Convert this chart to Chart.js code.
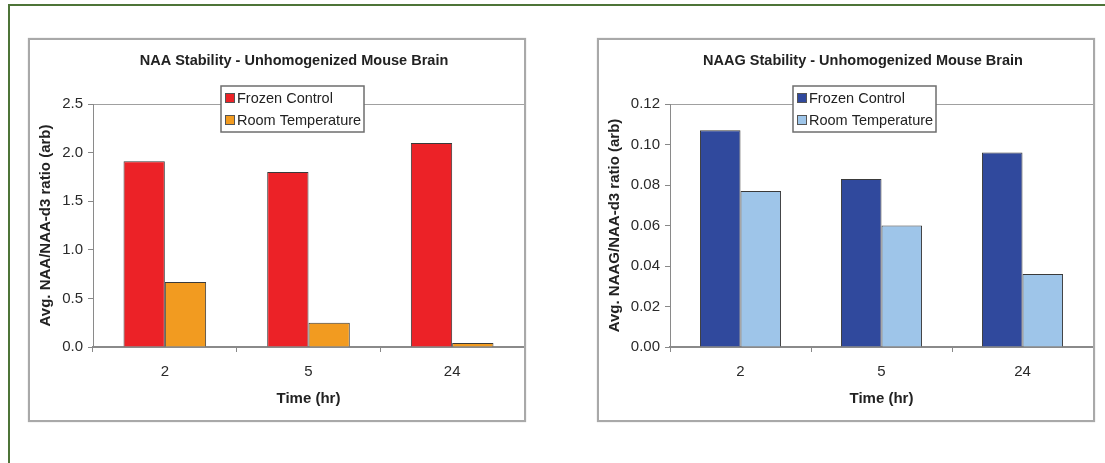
<!DOCTYPE html>
<html>
<head>
<meta charset="utf-8">
<script src="https://cdn.jsdelivr.net/npm/chart.js@4"></script>
<style>
  html, body { margin: 0; padding: 0; background: #ffffff; }
  body { width: 1105px; height: 463px; position: relative; overflow: hidden; }
  .frame {
    position: absolute; left: 8px; top: 4px; width: 1200px; height: 600px;
    border-left: 2px solid #4e7438; border-top: 2px solid #4e7438;
  }
  .box {
    position: absolute; top: 38px; width: 494px; height: 380px;
    border: 2px solid #a9a9a9;
    box-shadow: 0 0 1px rgba(0,0,0,0.25);
    background: #ffffff;
  }
  .box canvas { display: block; }
</style>
</head>
<body>
<div class="frame"></div>
<div class="box" style="left:28px;"><canvas id="naaChart" width="494" height="380"></canvas></div>
<div class="box" style="left:597px;"><canvas id="naagChart" width="494" height="380"></canvas></div>

<script>
// Sampling times (hours)
const timeLabels = ['2', '5', '24'];
const seriesNames = ['Frozen Control', 'Room Temperature'];

// NAA / NAA-d3 ratio
const naaFrozen = [1.91, 1.80, 2.10];
const naaRoom = [0.67, 0.25, 0.04];

// NAAG / NAA-d3 ratio
const naagFrozen = [0.107, 0.083, 0.096];
const naagRoom = [0.077, 0.060, 0.036];

const FONT = '"Liberation Sans", Arial, Helvetica, sans-serif';

// Custom title + boxed legend drawn on top of the plot
const boxedLegend = {
  id: 'boxedLegend',
  afterDraw(chart, args, opts) {
    const ctx = chart.ctx;
    ctx.save();
    // title
    ctx.font = 'bold 14.5px ' + FONT;
    ctx.fillStyle = '#222222';
    ctx.textAlign = 'center';
    ctx.textBaseline = 'middle';
    ctx.fillText(opts.title, opts.titleX, opts.titleY);

    // legend box
    const lx = opts.x, ly = opts.y, lw = opts.w, lh = opts.h;
    ctx.fillStyle = '#ffffff';
    ctx.fillRect(lx, ly, lw, lh);
    ctx.strokeStyle = '#6e6e6e';
    ctx.lineWidth = 1.5;
    ctx.strokeRect(lx, ly, lw, lh);
    ctx.font = '14.5px ' + FONT;
    ctx.textAlign = 'left';
    chart.data.datasets.forEach((ds, i) => {
      const cy = ly + 12 + i * 22;
      ctx.fillStyle = ds.backgroundColor;
      ctx.fillRect(lx + 4, cy - 5, 10, 10);
      ctx.strokeStyle = '#555555';
      ctx.lineWidth = 1;
      ctx.strokeRect(lx + 4.5, cy - 4.5, 9, 9);
      ctx.fillStyle = '#222222';
      ctx.fillText(ds.label, lx + 16, cy + 1);
    });
    ctx.restore();
  }
};

function makeChart(id, frozen, room, colors, yMax, step, decimals, yTitle, title, axisWidth, legendX) {
  const PLOT_TOP = 64, PLOT_BOTTOM = 307;
  return new Chart(document.getElementById(id), {
    type: 'bar',
    data: {
      labels: timeLabels,
      datasets: [
        { label: seriesNames[0], data: frozen, backgroundColor: colors[0],
          borderColor: '#3a3a3a', borderWidth: 1 },
        { label: seriesNames[1], data: room, backgroundColor: colors[1],
          borderColor: '#3a3a3a', borderWidth: 1 }
      ]
    },
    options: {
      responsive: false,
      animation: false,
      devicePixelRatio: 1,
      layout: { padding: { top: PLOT_TOP, left: 0, right: 0, bottom: 0 } },
      datasets: { bar: { categoryPercentage: 0.575, barPercentage: 1.0 } },
      plugins: {
        legend: { display: false },
        title: { display: false },
        tooltip: { enabled: false },
        boxedLegend: { title: title, titleX: 264, titleY: 21,
                       x: legendX, y: 46, w: 143, h: 46 }
      },
      scales: {
        x: {
          offset: true,
          grid: { offset: true, drawOnChartArea: false, drawTicks: true,
                  tickLength: 5, tickColor: '#888888', lineWidth: 1 },
          border: { display: true, color: '#8a8a8a', width: 2 },
          ticks: { font: { family: FONT, size: 15 }, color: '#2a2a2a', padding: 11,
                   maxRotation: 0 },
          title: { display: true, text: 'Time (hr)', color: '#222222',
                   font: { family: FONT, size: 15, weight: 'bold' },
                   padding: { top: 0, bottom: 12 } },
          afterFit(scale) { scale.height = 380 - PLOT_BOTTOM; }
        },
        y: {
          min: 0, max: yMax,
          ticks: { stepSize: step, font: { family: FONT, size: 15 }, color: '#2a2a2a',
                   padding: 5, callback: v => Number(v).toFixed(decimals) },
          grid: {
            drawTicks: true, tickLength: 5, tickColor: '#888888',
            color: ctx => (ctx.tick && Math.abs(ctx.tick.value - yMax) < 1e-9) ? '#a0a0a0' : 'rgba(0,0,0,0)',
            lineWidth: 1
          },
          border: { display: true, color: '#8a8a8a', width: 1 },
          title: { display: true, text: yTitle, color: '#222222',
                   font: { family: FONT, size: 15, weight: 'bold' },
                   padding: { top: 7, bottom: 0 } },
          afterFit(scale) { scale.width = axisWidth; }
        }
      }
    },
    plugins: [boxedLegend]
  });
}

makeChart('naaChart', naaFrozen, naaRoom, ['#ec2227', '#f29b20'], 2.5, 0.5, 1,
  'Avg. NAA/NAA-d3 ratio (arb)', 'NAA Stability - Unhomogenized Mouse Brain', 63, 191);

makeChart('naagChart', naagFrozen, naagRoom, ['#30499d', '#9ec5e9'], 0.12, 0.02, 2,
  'Avg. NAAG/NAA-d3 ratio (arb)', 'NAAG Stability - Unhomogenized Mouse Brain', 71, 194);
</script>
</body>
</html>
